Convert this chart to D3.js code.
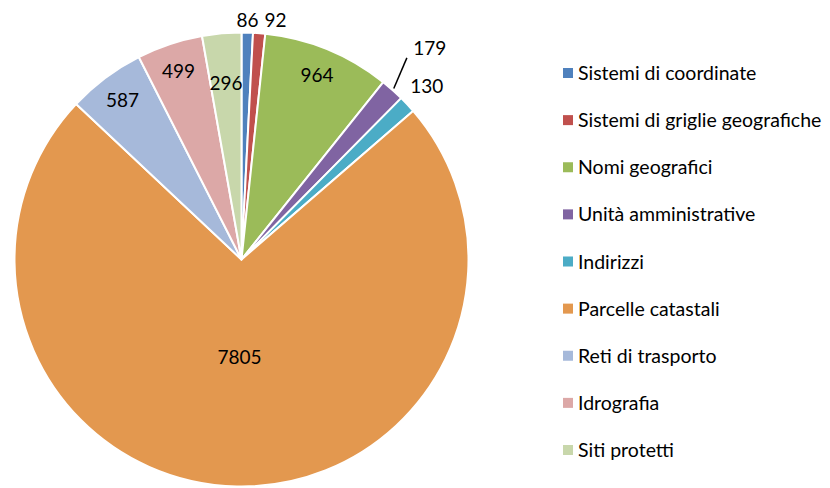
<!DOCTYPE html>
<html>
  <head>
    <meta charset="utf-8">
    <script src="https://d3js.org/d3.v7.min.js"></script>
    <style>
      body { margin: 0; background: #fff; }
      svg text { font-family: Lato, "Open Sans", sans-serif; fill: #000; }
    </style>
  </head>
  <body>
    <script>
      var categories = ['Sistemi di coordinate', 'Sistemi di griglie geografiche', 'Nomi geografici',
        'Unità amministrative', 'Indirizzi', 'Parcelle catastali', 'Reti di trasporto',
        'Idrografia', 'Siti protetti'];
      var values = [86, 92, 964, 179, 130, 7805, 587, 499, 296];
      var colors = ['#4F81BD', '#C0504D', '#9BBB59', '#8064A2', '#4BACC6', '#E3984F',
        '#A6B9DA', '#DCA8A7', '#C8D7AB'];

      var width = 830, height = 488;
      var cx = 241.5, cy = 259.5, R = 227;

      var svg = d3.select('body').append('svg')
        .attr('width', width)
        .attr('height', height);

      var rows = categories.map(function(c, i) { return {name: c, value: values[i], color: colors[i], i: i}; });

      var pie = d3.pie()
        .sort(null)
        .value(function(d) { return d.value; });

      var arcs = pie(rows);
      var total = d3.sum(values);

      var arc = d3.arc().innerRadius(0).outerRadius(R);

      var g = svg.append('g').attr('transform', 'translate(' + cx + ',' + cy + ')');

      g.selectAll('path.slice')
        .data(arcs)
        .enter().append('path')
          .attr('class', 'slice')
          .attr('d', arc)
          .attr('fill', function(d) { return d.data.color; })
          .attr('stroke', '#fff')
          .attr('stroke-width', 2)
          .attr('stroke-linejoin', 'round');

      // point at radius r along angle a (d3 angles, 0 = 12 o'clock)
      function polar(a, r) {
        return [r * Math.sin(a), -r * Math.cos(a)];
      }

      var fontSize = 19;
      var maxShare = d3.max(values) / total;

      // extra nudges for outside labels that would collide (Excel-like placement)
      var angleNudge = {1: 3.6 * Math.PI / 180};
      var radiusNudge = {3: 31};

      arcs.forEach(function(d) {
        var share = d.data.value / total;
        var mid = (d.startAngle + d.endAngle) / 2;
        var span = d.endAngle - d.startAngle;
        var pos, leader = null;

        if (share === maxShare) {
          pos = polar(mid, R * 0.43);
        } else if (share >= 0.02) {
          pos = polar(mid, span < 12 * Math.PI / 180 ? R * 0.78 : R * 0.875);
        } else {
          var a = mid + (angleNudge[d.index] || 0);
          var extra = radiusNudge[d.index] || 0;
          var r = R + 12 + 20 * Math.abs(Math.sin(a)) + extra;
          pos = polar(a, r);
          if (extra) {
            var p0 = polar(mid, R + 2);
            leader = [p0, [pos[0] - 23, pos[1] + 10]];
          }
        }

        if (leader) {
          g.append('line')
            .attr('x1', leader[0][0]).attr('y1', leader[0][1])
            .attr('x2', leader[1][0]).attr('y2', leader[1][1])
            .attr('stroke', '#000')
            .attr('stroke-width', 1.5);
        }

        g.append('text')
          .attr('x', pos[0])
          .attr('y', pos[1])
          .attr('dy', '0.35em')
          .attr('text-anchor', 'middle')
          .style('font-size', fontSize + 'px')
          .text(d.data.value);
      });

      // legend
      var legendY = d3.scalePoint()
        .domain(categories)
        .range([73, 450]);

      var legend = svg.append('g').attr('class', 'legend');

      var item = legend.selectAll('g')
        .data(rows)
        .enter().append('g')
          .attr('transform', function(d) { return 'translate(563,' + legendY(d.name) + ')'; });

      item.append('rect')
        .attr('x', 0)
        .attr('y', -5)
        .attr('width', 10)
        .attr('height', 10)
        .attr('fill', function(d) { return d.color; });

      item.append('text')
        .attr('x', 15)
        .attr('y', 0)
        .attr('dy', '0.36em')
        .style('font-size', '19.5px')
        .text(function(d) { return d.name; });
    </script>
  </body>
</html>
